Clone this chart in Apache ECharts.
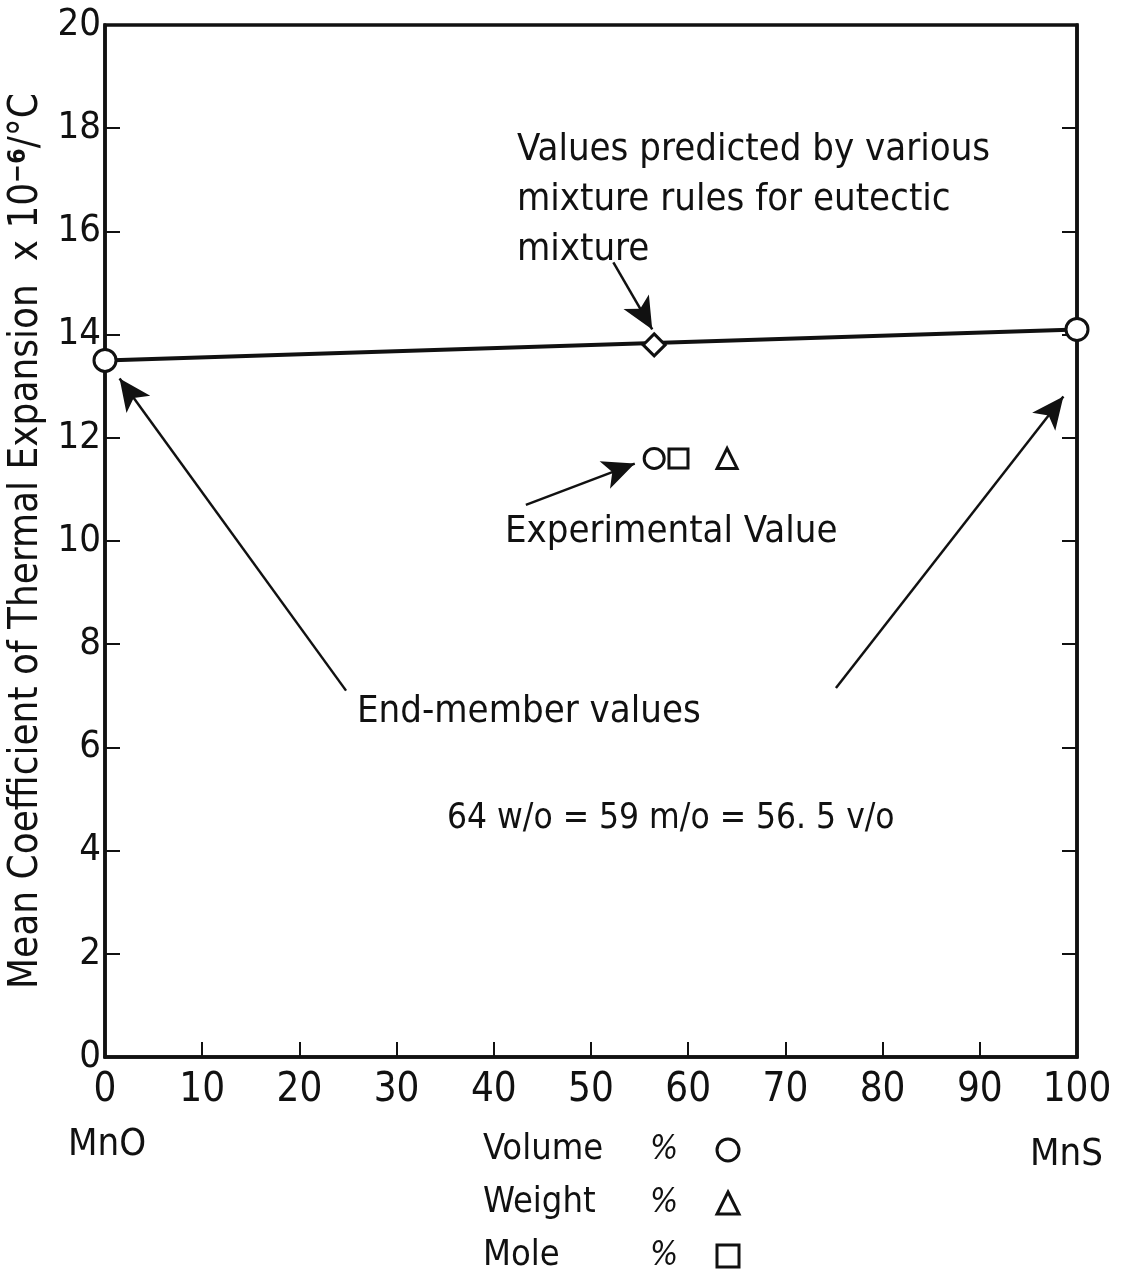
<!DOCTYPE html>
<html>
<head>
<meta charset="utf-8">
<title>Thermal expansion of MnO–MnS mixtures</title>
<script src="https://cdn.jsdelivr.net/npm/echarts@6/dist/echarts.min.js"></script>
<style>
  html, body { margin: 0; padding: 0; background: #fff; }
  #chart { width: 1144px; height: 1275px; }
</style>
</head>
<body>
<div id="chart"></div>
<script>
// Composition (% MnS) vs mean coefficient of thermal expansion (x10^-6 /°C)
const endMembers = [[0, 13.5], [100, 14.1]];          // pure MnO, pure MnS
const predicted = [[56.5, 13.8]];                     // mixture-rule value at eutectic
const expVolume = [[56.5, 11.6]];                     // experimental, volume %
const expMole = [[59, 11.6]];                         // experimental, mole %
const expWeight = [[64, 11.6]];                       // experimental, weight %
const xTicks = [0, 10, 20, 30, 40, 50, 60, 70, 80, 90, 100];
const yTicks = [0, 2, 4, 6, 8, 10, 12, 14, 16, 18, 20];

// Annotation arrows, [from, to] in data coordinates
const arrows = [
  [[24.8, 7.1], [1.5, 13.15]],
  [[75.2, 7.15], [98.6, 12.8]],
  [[52.3, 15.4], [56.3, 14.1]],
  [[43.3, 10.7], [54.5, 11.5]]
];

const FONT = "'Liberation Sans Narrow', 'DejaVu Sans Condensed', 'Noto Sans', sans-serif";
const INK = '#111';
const hollow = { color: '#fff', borderColor: INK, borderWidth: 3, opacity: 1 };

const chart = echarts.init(document.getElementById('chart'));

const option = {
  backgroundColor: '#fff',
  animation: false,
  textStyle: { fontFamily: FONT, color: INK },
  grid: {
    left: 105, right: 67, top: 25, bottom: 218, outerBoundsMode: 'none',
    show: true, borderColor: INK, borderWidth: 3.5, backgroundColor: 'transparent'
  },
  xAxis: [{
    type: 'value', min: xTicks[0], max: xTicks[xTicks.length - 1], interval: 10,
    axisLine: { show: true, lineStyle: { color: INK, width: 3.5 } },
    axisTick: { show: true, inside: true, length: 15, lineStyle: { color: INK, width: 2 } },
    axisLabel: { fontFamily: FONT, fontSize: 40, color: INK, margin: 14 },
    splitLine: { show: false }
  }],
  yAxis: [{
    type: 'value', min: yTicks[0], max: yTicks[yTicks.length - 1], interval: 2,
    axisLine: { show: true, lineStyle: { color: INK, width: 3.5 } },
    axisTick: { show: true, inside: true, length: 15, lineStyle: { color: INK, width: 2 } },
    axisLabel: { fontFamily: FONT, fontSize: 38, color: INK, margin: 4 },
    splitLine: { show: false },
    name: 'Mean Coefficient of Thermal Expansion  x 10{sup|−6}/°C',
    nameLocation: 'middle', nameRotate: 90, nameGap: 56,
    nameTextStyle: {
      fontFamily: FONT, fontSize: 40, color: INK,
      rich: { sup: { fontFamily: FONT, fontSize: 25, fontWeight: 'bold', color: INK, padding: [0, 0, 17, 0] } }
    }
  }, {
    type: 'value', position: 'right', min: yTicks[0], max: yTicks[yTicks.length - 1], interval: 2,
    axisLine: { show: true, lineStyle: { color: INK, width: 3.5 } },
    axisTick: { show: true, inside: true, length: 15, lineStyle: { color: INK, width: 2 } },
    axisLabel: { show: false },
    splitLine: { show: false }
  }],
  legend: {
    orient: 'vertical', left: 483, top: 1131, align: 'right', padding: 0,
    itemWidth: 22, itemHeight: 22, itemGap: 15,
    data: [
      { name: 'Volume', icon: 'circle' },
      { name: 'Weight', icon: 'triangle' },
      { name: 'Mole', icon: 'rect' }
    ],
    itemStyle: { color: '#fff', borderColor: INK, borderWidth: 3, opacity: 1 },
    formatter: name => `{n|${name}}{p|%}`,
    textStyle: {
      fontFamily: FONT, fontSize: 36, color: INK, lineHeight: 38,
      rich: {
        n: { fontFamily: FONT, fontSize: 36, color: INK, width: 167, lineHeight: 38, align: 'left' },
        p: { fontFamily: FONT, fontSize: 33, color: INK, fontStyle: 'italic', width: 62, lineHeight: 38, align: 'left' }
      }
    }
  },
  series: [
    {
      name: 'End members', type: 'line', data: endMembers,
      symbol: 'circle', symbolSize: 22, itemStyle: hollow,
      lineStyle: { color: INK, width: 4 }, z: 3,
      markLine: {
        silent: true, symbol: ['none', 'arrow'], symbolSize: [22, 32],
        label: { show: false },
        lineStyle: { color: INK, width: 2.5, type: 'solid' },
        data: arrows.map(([a, b]) => [{ coord: a }, { coord: b }])
      }
    },
    { name: 'Predicted', type: 'scatter', data: predicted, symbol: 'diamond', symbolSize: 22, itemStyle: hollow, z: 4 },
    { name: 'Volume', type: 'scatter', data: expVolume, symbol: 'circle', symbolSize: 20, itemStyle: hollow },
    { name: 'Mole', type: 'scatter', data: expMole, symbol: 'rect', symbolSize: 19, itemStyle: hollow },
    { name: 'Weight', type: 'scatter', data: expWeight, symbol: 'triangle', symbolSize: 20, itemStyle: hollow }
  ],
  graphic: [
    { type: 'text', left: 517, top: 125, style: { text: 'Values predicted by various\nmixture rules for eutectic\nmixture', font: `38px ${FONT}`, fill: INK, lineHeight: 50 } },
    { type: 'text', left: 505, top: 513, style: { text: 'Experimental Value', font: `38px ${FONT}`, fill: INK } },
    { type: 'text', left: 357, top: 693, style: { text: 'End-member values', font: `38px ${FONT}`, fill: INK } },
    { type: 'text', left: 447, top: 801, style: { text: '64 w/o = 59 m/o = 56. 5 v/o', font: `35px ${FONT}`, fill: INK } },
    { type: 'text', left: 68, top: 1126, style: { text: 'MnO', font: `38px ${FONT}`, fill: INK } },
    { type: 'text', left: 1030, top: 1136, style: { text: 'MnS', font: `38px ${FONT}`, fill: INK } }
  ]
};

chart.setOption(option);
</script>
</body>
</html>
